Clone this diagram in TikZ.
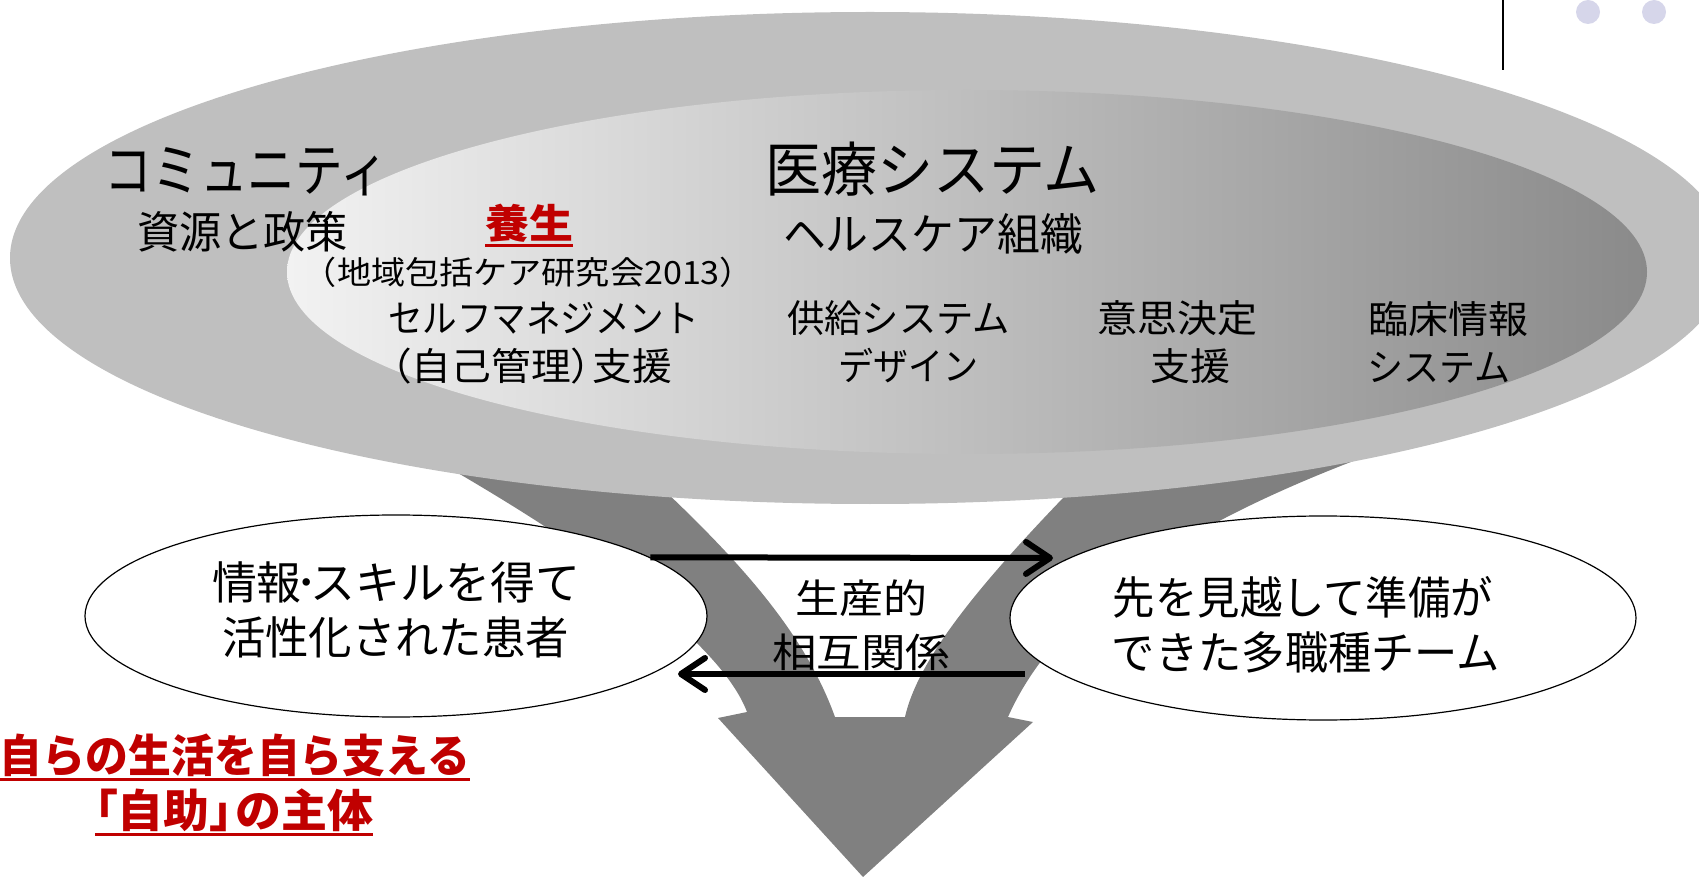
\documentclass[tikz,border=0pt]{standalone}
\usepackage{fontspec}
\usepackage{graphicx}
\newfontfamily\jp{Noto Sans CJK JP}
\usetikzlibrary{shapes.geometric,arrows.meta}
\definecolor{ringgray}{RGB}{191,191,191}
\definecolor{funnelgray}{RGB}{128,128,128}
\definecolor{inlight}{RGB}{242,242,242}
\definecolor{indark}{RGB}{138,138,138}
\definecolor{accred}{RGB}{192,0,0}
\definecolor{dotlav}{RGB}{214,214,234}
\newcommand\fsz[1]{\fontsize{#1}{#1}\selectfont}
\newcommand\fitw[2]{\resizebox{#1}{\height}{#2}}
\begin{document}
\begin{tikzpicture}[x=0.5pt,y=-0.5pt,
  lbl/.style={inner sep=0pt, outer sep=0pt, anchor=center, font=\jp},
  oval/.style={ellipse, draw=black, line width=0.6pt, fill=white, inner sep=0pt},
  flow/.style={line width=3pt, -{Straight Barb[length=12pt,width=16pt,round]}},
  redline/.style={draw=accred, line width=1.4pt}
]
\useasboundingbox (0,0) rectangle (1699,877);

% funnel arrow behind everything
\fill[funnelgray] (400,440) .. controls (580,540) and (720,640) .. (747,712)
  -- (718,718) -- (863,877) -- (1033,722) -- (1008,717)
  .. controls (1060,600) and (1200,510) .. (1440,430)
  -- (1120,440) .. controls (1000,560) and (920,650) .. (905,717)
  -- (835,717) .. controls (800,620) and (720,540) .. (610,440) -- cycle;

% outer and inner ellipses
\fill[ringgray] (870,258) ellipse [x radius=860, y radius=246];
\shade[left color=inlight, right color=indark] (967,272) ellipse [x radius=680, y radius=182];

% top texts
\node[lbl] (cmty) at (246.5,171.5) {\fsz{29pt}\fitw{141.5pt}{コミュニティ}};
\node[lbl] (shigen) at (242.5,232) {\fsz{22pt}\fitw{105.5pt}{資源と政策}};
\node[lbl, text=accred] (yojo) at (529,223) {\fsz{20pt}\bfseries\fitw{44pt}{養生}};
\node[lbl] (ken) at (528.5,272) {\fsz{16pt}\fitw{208.5pt}{\kern-.5em（地域包括ケア研究会2013）\kern-.5em}};
\node[lbl] (iryo) at (932.5,169) {\fsz{29.5pt}\fitw{167.5pt}{医療システム}};
\node[lbl] (hc) at (933,234) {\fsz{22pt}\fitw{150pt}{ヘルスケア組織}};
\node[lbl] (sm1) at (543.5,318) {\fsz{19pt}\fitw{155.5pt}{セルフマネジメント}};
\node[lbl] (sm2) at (532,366) {\fsz{19pt}\fitw{140pt}{\kern-.5em（自己管理）\kern-.45em支援}};
\node[lbl] (ks1) at (898.5,318) {\fsz{19pt}\fitw{111.5pt}{供給システム}};
\node[lbl] (ks2) at (908,366) {\fsz{19pt}\fitw{70pt}{デザイン}};
\node[lbl] (is1) at (1177,318) {\fsz{19pt}\fitw{80pt}{意思決定}};
\node[lbl] (is2) at (1190,366) {\fsz{19pt}\fitw{40pt}{支援}};
\node[lbl] (rs1) at (1448,319) {\fsz{19pt}\fitw{80pt}{臨床情報}};
\node[lbl] (rs2) at (1438.5,368) {\fsz{19pt}\fitw{71.5pt}{システム}};
\draw[redline] ([yshift=-1.5pt]yojo.south west) -- ([yshift=-1.5pt]yojo.south east);

% lower ellipses
\node[oval, minimum width=311pt, minimum height=101pt] (pat) at (396,616) {};
\node[oval, minimum width=313pt, minimum height=102pt] (team) at (1323,618) {};
\node[lbl] (p1) at (396,582) {\fsz{22.5pt}\fitw{184pt}{情報\kern-.15em･\kern-.15emスキルを得て}};
\node[lbl] (p2) at (395.5,637) {\fsz{22.5pt}\fitw{173.5pt}{活性化された患者}};
\node[lbl] (t1) at (1303,597) {\fsz{22.5pt}\fitw{190pt}{先を見越して準備が}};
\node[lbl] (t2) at (1306,652) {\fsz{22.5pt}\fitw{194pt}{できた多職種チーム}};
\node[lbl] (m1) at (861,598) {\fsz{20pt}\fitw{66pt}{生産的}};
\node[lbl] (m2) at (861,652) {\fsz{20pt}\fitw{89pt}{相互関係}};

% arrows between the ellipses
\coordinate (a1e) at (1053,558);
\coordinate (a2s) at (1025,674);
\coordinate (a2e) at (678,674);
\draw[flow] (pat.13) -- (a1e);
\draw[flow] (a2s) -- (a2e);

% red bottom-left text
\node[lbl, text=accred] (r1) at (235,755) {\fsz{22.5pt}\bfseries\fitw{235pt}{自らの生活を自ら支える}};
\node[lbl, text=accred] (r2) at (234,810) {\fsz{22.5pt}\bfseries\fitw{139pt}{\kern-.5em「自助」\kern-.45emの主体}};
\draw[redline] ([yshift=-1.5pt]r1.south west) -- ([yshift=-1.5pt]r1.south east);
\draw[redline] ([yshift=-1.5pt]r2.south west) -- ([yshift=-1.5pt]r2.south east);

% top-right decoration
\draw[line width=1.3pt] (1503,0) -- (1503,70);
\fill[dotlav] (1588,12) circle [radius=12];
\fill[dotlav] (1654,12) circle [radius=12];
\end{tikzpicture}
\end{document}
